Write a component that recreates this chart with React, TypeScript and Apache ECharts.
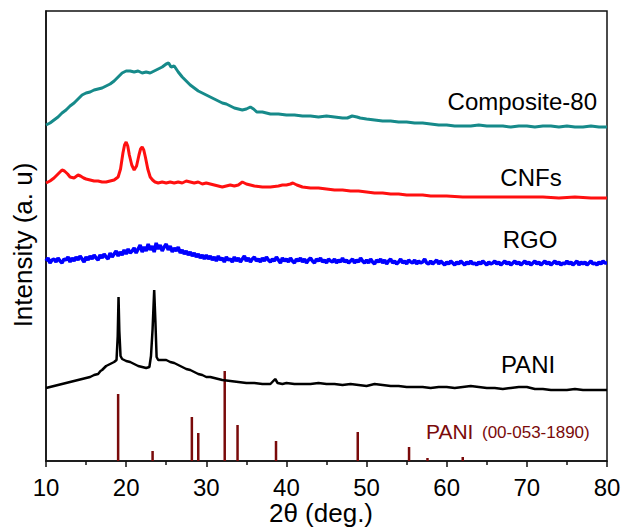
import React, { useEffect, useRef } from "react";
import * as echarts from "echarts";

// x: 2θ (deg.), y: intensity (a. u., stacked offsets as in the figure)
const xTicks = [10, 20, 30, 40, 50, 60, 70, 80];

const composite80: [number, number][] = [
  [10, 336], [10.5, 338], [11, 341], [11.5, 344], [12, 348], [12.5, 351], [13, 355], [13.5, 358],
  [14, 362], [14.5, 366], [15, 368], [15.5, 369], [16, 371], [16.5, 372], [17, 373], [17.5, 375],
  [18, 377], [18.5, 380], [19, 384], [19.5, 388], [20, 390], [20.5, 390], [21, 389], [21.5, 390],
  [22, 388], [22.5, 389], [23, 388], [23.5, 390], [24, 392], [24.5, 394], [25, 397], [25.3, 398],
  [25.6, 394], [26, 395], [26.5, 389], [27, 384], [27.5, 380], [28, 376], [28.5, 373], [29, 370],
  [29.5, 368], [30, 366], [30.5, 364], [31, 362], [31.5, 360], [32, 358], [32.5, 357], [33, 355],
  [33.5, 353], [34, 352], [34.5, 351], [35, 352], [35.5, 354], [35.9, 352], [36.3, 349], [37, 349],
  [37.5, 348], [38, 347], [39, 347], [40, 346], [41, 346], [42, 345], [43, 345], [44, 344],
  [45, 345], [46, 344], [47, 343], [47.6, 343], [48.2, 345], [48.8, 344], [49.2, 343], [50, 342],
  [51, 341], [52, 340], [53, 340], [54, 339], [55, 339], [56, 338], [57, 338], [58, 337],
  [59, 336], [60, 336], [61, 335], [62, 335], [63, 335], [64, 336], [65, 335], [66, 335],
  [67, 335], [68, 334], [69, 335], [70, 335], [71, 334], [72, 335], [73, 335], [74, 334],
  [75, 335], [76, 334], [77, 334], [78, 335], [79, 334], [80, 334],
];

const cnfs: [number, number][] = [
  [10, 278], [10.5, 280], [11, 283], [11.5, 287], [12, 291], [12.3, 290], [12.7, 287], [13, 284],
  [13.5, 283], [14, 286], [14.3, 285], [14.7, 283], [15, 282], [15.5, 281], [16, 280], [16.5, 280],
  [17, 279], [17.5, 279], [18, 280], [18.5, 281], [19, 284], [19.3, 292], [19.6, 308], [19.8, 316],
  [20, 319], [20.2, 315], [20.4, 306], [20.7, 296], [21, 291], [21.3, 295], [21.6, 306], [21.8, 312],
  [22, 314], [22.2, 311], [22.4, 304], [22.7, 292], [23, 284], [23.3, 281], [23.6, 279], [24, 278],
  [24.5, 279], [25, 278], [25.5, 279], [26, 278], [26.5, 279], [27, 278], [27.5, 280], [28, 279],
  [28.5, 278], [29, 279], [29.5, 277], [30, 278], [31, 276], [32, 274], [32.5, 275], [33, 276],
  [33.5, 275], [34, 276], [34.5, 279], [35, 277], [35.5, 276], [36, 275], [37, 274], [38, 274],
  [39, 275], [39.5, 276], [40, 276], [40.5, 277], [40.8, 278], [41.3, 276], [42, 274], [43, 273],
  [44, 273], [45, 272], [46, 271], [47, 271], [48, 270], [49, 270], [50, 269], [51, 268],
  [52, 268], [53, 267], [54, 267], [55, 266], [56, 266], [57, 266], [58, 265], [59, 265],
  [60, 265], [62, 264], [64, 264], [66, 264], [68, 264], [70, 264], [72, 264], [74, 263],
  [76, 264], [78, 263], [80, 263],
];

// RGO read every 0.25° from 10° to 80°
const rgoStart = 10;
const rgoStep = 0.25;
const rgoValues = [
  200, 203, 198, 201, 202, 199, 203, 200, 198, 202, 201, 204, 199, 203, 200, 204,
  201, 205, 202, 199, 204, 201, 205, 202, 206, 203, 201, 206, 203, 207, 204, 202,
  208, 204, 207, 210, 205, 209, 206, 211, 207, 212, 208, 210, 213, 208, 212, 216,
  209, 214, 210, 217, 211, 215, 209, 218, 212, 216, 210, 214, 217, 211, 215, 209,
  213, 210, 214, 208, 211, 207, 210, 206, 209, 205, 208, 204, 207, 203, 206, 202,
  206, 202, 205, 201, 204, 200, 205, 201, 203, 199, 204, 201, 202, 199, 204, 200,
  203, 199, 202, 205, 200, 203, 199, 202, 204, 200, 202, 199, 203, 200, 204, 201,
  199, 202, 200, 204, 201, 198, 203, 200, 202, 199, 203, 200, 198, 202, 200, 203,
  199, 202, 198, 201, 203, 200, 198, 202, 200, 203, 199, 201, 198, 202, 200, 199,
  202, 198, 201, 199, 203, 199, 201, 198, 200, 202, 198, 201, 199, 203, 200, 198,
  201, 198, 202, 199, 197, 201, 199, 202, 198, 201, 197, 200, 202, 198, 200, 197,
  199, 202, 198, 200, 197, 201, 199, 198, 201, 197, 200, 198, 199, 202, 198, 197,
  200, 197, 199, 201, 197, 200, 198, 196, 199, 197, 200, 198, 196, 199, 197, 200,
  198, 196, 199, 197, 200, 197, 198, 196, 199, 197, 200, 198, 196, 199, 197, 198,
  200, 197, 199, 196, 198, 200, 197, 199, 196, 198, 200, 197, 199, 196, 198, 200,
  197, 199, 196, 198, 200, 197, 199, 196, 198, 200, 197, 199, 196, 198, 200, 197,
  199, 196, 198, 197, 200, 197, 199, 196, 198, 200, 196, 199, 197, 199, 196, 198,
  200, 197, 198, 196, 199, 197, 200, 198, 198,
];

const pani: [number, number][] = [
  [10, 73], [10.5, 74], [11, 75], [11.5, 76], [12, 77], [12.5, 78], [13, 79], [13.5, 80],
  [14, 81], [14.5, 82], [15, 83], [15.5, 84], [16, 86], [16.5, 87], [16.8, 90], [17, 91],
  [17.5, 95], [18, 97], [18.5, 99], [18.8, 101], [18.95, 125], [19.05, 164], [19.15, 130], [19.3, 105],
  [19.5, 102], [20, 100], [20.5, 99], [21, 97], [21.5, 95], [22, 94], [22.5, 93], [22.9, 94],
  [23.1, 105], [23.3, 132], [23.5, 171], [23.65, 140], [23.8, 104], [24, 101], [24.5, 101], [25, 101],
  [25.5, 99], [26, 98], [26.5, 96], [27, 94], [27.5, 92], [28, 91], [28.5, 89], [29, 87],
  [29.5, 86], [30, 84], [30.5, 84], [31, 83], [31.5, 82], [32, 81], [33, 80], [34, 79],
  [35, 78], [36, 78], [37, 77], [38, 77], [38.6, 82], [38.9, 78], [39.5, 77], [40, 78],
  [41, 77], [42, 77], [43, 77], [44, 78], [45, 77], [46, 77], [47, 76], [48, 77],
  [49, 76], [50, 75], [51, 77], [52, 76], [53, 75], [54, 75], [55, 74], [56, 74],
  [57, 74], [58, 73], [59, 74], [60, 74], [61, 73], [62, 74], [63, 75], [64, 74],
  [65, 73], [66, 73], [67, 72], [68, 73], [69, 74], [70, 74], [71, 72], [72, 72],
  [73, 71], [74, 71], [75, 71], [76, 72], [77, 71], [78, 71], [79, 71], [80, 71],
];

// Reference pattern PANI (00-053-1890)
const refPositions = [19.0, 23.3, 28.2, 29.0, 32.3, 33.9, 38.7, 48.9, 55.3, 57.6, 62.0];
const refHeights = [67, 10, 44, 28, 90, 36, 20, 29, 14, 3, 4];

const seriesLabels = ["Composite-80", "CNFs", "RGO", "PANI"];
const refLabel = "PANI";
const refCode = "(00-053-1890)";

const FONT = '"Liberation Sans", Arial, Helvetica, sans-serif';

export default function App() {
  const ref = useRef<HTMLDivElement>(null);
  useEffect(() => {
    if (!ref.current) return;
    const chart = echarts.init(ref.current, null, { renderer: "svg" });
    const rgo = rgoValues.map((v, i) => [rgoStart + i * rgoStep, v]);
    const sticks = refPositions.map((p, i) => [p, refHeights[i]]);
    const txt = (text: string, x: number, y: number, size: number, fill: string, align = "center", extra: any = {}) => ({
      type: "text",
      x,
      y,
      silent: true,
      ...extra,
      style: {
        text,
        font: `${size}px ${FONT}`,
        fill,
        align,
        verticalAlign: "middle",
        textAlign: align,
        textVerticalAlign: "middle",
      },
    });
    chart.setOption({
      animation: false,
      grid: {
        left: 46,
        right: 15,
        top: 11,
        bottom: 66,
        show: true,
        borderColor: "#111",
        borderWidth: 1.5,
        outerBoundsMode: "none",
      },
      xAxis: {
        type: "value",
        min: 10,
        max: 80,
        interval: 10,
        axisLine: { show: true, lineStyle: { color: "#111", width: 1.5 } },
        axisTick: { show: true, inside: false, length: 6, lineStyle: { color: "#111", width: 1.5 } },
        minorTick: { show: true, splitNumber: 2, length: 4, lineStyle: { color: "#111", width: 1.5 } },
        splitLine: { show: false },
        axisLabel: {
          fontSize: 24,
          fontFamily: FONT,
          color: "#000",
          margin: 14,
          formatter: (v: number) => (xTicks.includes(v) ? String(v) : ""),
        },
      },
      yAxis: {
        type: "value",
        min: 0,
        max: 450,
        axisLine: { show: true, lineStyle: { color: "#111", width: 1.5 } },
        axisTick: { show: false },
        axisLabel: { show: false },
        splitLine: { show: false },
      },
      series: [
        {
          type: "line",
          data: composite80,
          showSymbol: false,
          silent: true,
          lineStyle: { color: "#168a8a", width: 3 },
        },
        {
          type: "line",
          data: cnfs,
          showSymbol: false,
          silent: true,
          lineStyle: { color: "#ff1010", width: 3 },
        },
        {
          type: "line",
          data: rgo,
          showSymbol: false,
          silent: true,
          lineStyle: { color: "#0000ff", width: 3.5 },
        },
        {
          type: "line",
          data: pani,
          showSymbol: false,
          silent: true,
          lineStyle: { color: "#000", width: 2.5 },
        },
        {
          type: "bar",
          data: sticks,
          barWidth: 2.5,
          silent: true,
          itemStyle: { color: "#7a0a0a" },
        },
      ],
      graphic: [
        txt(seriesLabels[0], 597, 101, 24, "#000", "right"),
        txt(seriesLabels[1], 531, 177, 24, "#000"),
        txt(seriesLabels[2], 530, 239, 24, "#000"),
        txt(seriesLabels[3], 528, 364, 24, "#000"),
        txt(refLabel, 426, 431, 21, "#7a0a0a", "left"),
        txt(refCode, 482, 432, 17, "#7a0a0a", "left"),
        txt("2θ (deg.)", 321, 513, 26, "#000"),
        txt("Intensity (a. u)", 23, 245, 26, "#000", "center", { rotation: Math.PI / 2 }),
      ],
    });
    return () => chart.dispose();
  }, []);
  return <div ref={ref} style={{ position: "absolute", left: 0, top: 0, width: 622, height: 527 }} />;
}
